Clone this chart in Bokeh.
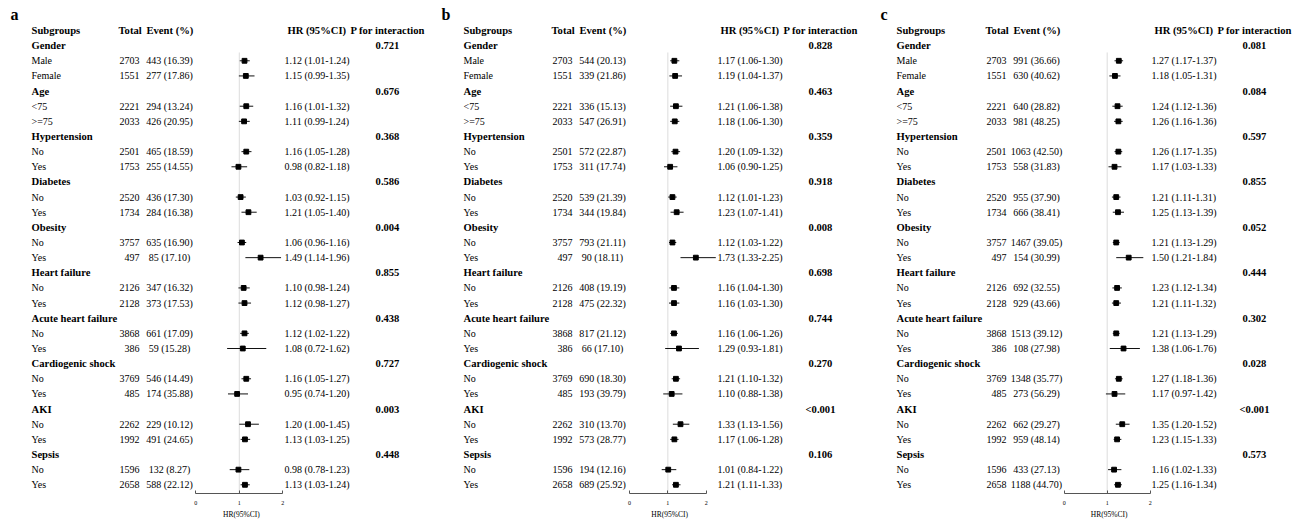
from bokeh.plotting import figure
from bokeh.models import ColumnDataSource, LabelSet, Label, Range1d, FixedTicker, Title
from bokeh.layouts import row
from bokeh.core.properties import value
from bokeh.embed import file_html
from bokeh.resources import INLINE

# ---- data -------------------------------------------------------------
groups = ["Gender", "Age", "Hypertension", "Diabetes", "Obesity", "Heart failure",
          "Acute heart failure", "Cardiogenic shock", "AKI", "Sepsis"]
levels = [["Male", "Female"], ["<75", ">=75"], ["No", "Yes"], ["No", "Yes"], ["No", "Yes"],
          ["No", "Yes"], ["No", "Yes"], ["No", "Yes"], ["No", "Yes"], ["No", "Yes"]]
totals = [2703, 1551, 2221, 2033, 2501, 1753, 2520, 1734, 3757, 497,
          2126, 2128, 3868, 386, 3769, 485, 2262, 1992, 1596, 2658]

events_a = [443, 277, 294, 426, 465, 255, 436, 284, 635, 85,
            347, 373, 661, 59, 546, 174, 229, 491, 132, 588]
pct_a = [16.39, 17.86, 13.24, 20.95, 18.59, 14.55, 17.30, 16.38, 16.90, 17.10,
         16.32, 17.53, 17.09, 15.28, 14.49, 35.88, 10.12, 24.65, 8.27, 22.12]
hr_a = [1.12, 1.15, 1.16, 1.11, 1.16, 0.98, 1.03, 1.21, 1.06, 1.49,
        1.10, 1.12, 1.12, 1.08, 1.16, 0.95, 1.20, 1.13, 0.98, 1.13]
lo_a = [1.01, 0.99, 1.01, 0.99, 1.05, 0.82, 0.92, 1.05, 0.96, 1.14,
        0.98, 0.98, 1.02, 0.72, 1.05, 0.74, 1.00, 1.03, 0.78, 1.03]
hi_a = [1.24, 1.35, 1.32, 1.24, 1.28, 1.18, 1.15, 1.40, 1.16, 1.96,
        1.24, 1.27, 1.22, 1.62, 1.27, 1.20, 1.45, 1.25, 1.23, 1.24]
p_a = ["0.721", "0.676", "0.368", "0.586", "0.004", "0.855", "0.438", "0.727", "0.003", "0.448"]

events_b = [544, 339, 336, 547, 572, 311, 539, 344, 793, 90,
            408, 475, 817, 66, 690, 193, 310, 573, 194, 689]
pct_b = [20.13, 21.86, 15.13, 26.91, 22.87, 17.74, 21.39, 19.84, 21.11, 18.11,
         19.19, 22.32, 21.12, 17.10, 18.30, 39.79, 13.70, 28.77, 12.16, 25.92]
hr_b = [1.17, 1.19, 1.21, 1.18, 1.20, 1.06, 1.12, 1.23, 1.12, 1.73,
        1.16, 1.16, 1.16, 1.29, 1.21, 1.10, 1.33, 1.17, 1.01, 1.21]
lo_b = [1.06, 1.04, 1.06, 1.06, 1.09, 0.90, 1.01, 1.07, 1.03, 1.33,
        1.04, 1.03, 1.06, 0.93, 1.10, 0.88, 1.13, 1.06, 0.84, 1.11]
hi_b = [1.30, 1.37, 1.38, 1.30, 1.32, 1.25, 1.23, 1.41, 1.22, 2.25,
        1.30, 1.30, 1.26, 1.81, 1.32, 1.38, 1.56, 1.28, 1.22, 1.33]
p_b = ["0.828", "0.463", "0.359", "0.918", "0.008", "0.698", "0.744", "0.270", "<0.001", "0.106"]

events_c = [991, 630, 640, 981, 1063, 558, 955, 666, 1467, 154,
            692, 929, 1513, 108, 1348, 273, 662, 959, 433, 1188]
pct_c = [36.66, 40.62, 28.82, 48.25, 42.50, 31.83, 37.90, 38.41, 39.05, 30.99,
         32.55, 43.66, 39.12, 27.98, 35.77, 56.29, 29.27, 48.14, 27.13, 44.70]
hr_c = [1.27, 1.18, 1.24, 1.26, 1.26, 1.17, 1.21, 1.25, 1.21, 1.50,
        1.23, 1.21, 1.21, 1.38, 1.27, 1.17, 1.35, 1.23, 1.16, 1.25]
lo_c = [1.17, 1.05, 1.12, 1.16, 1.17, 1.03, 1.11, 1.13, 1.13, 1.21,
        1.12, 1.11, 1.13, 1.06, 1.18, 0.97, 1.20, 1.15, 1.02, 1.16]
hi_c = [1.37, 1.31, 1.36, 1.36, 1.35, 1.33, 1.31, 1.39, 1.29, 1.84,
        1.34, 1.32, 1.29, 1.76, 1.36, 1.42, 1.52, 1.33, 1.33, 1.34]
p_c = ["0.081", "0.084", "0.597", "0.855", "0.052", "0.444", "0.302", "0.028", "<0.001", "0.573"]

hr_ticks = [0, 1, 2]
header = ["Subgroups", "Total", "Event (%)", "HR (95%CI)", "P for interaction"]
axis_title = "HR(95%CI)"

# ---- layout constants ---------------------------------------------------
FONT = "Liberation Serif"
REG = "10px"
BOLD = "10.6px"
HEIGHT = 519
BOTTOM = 26                 # room for the HR axis under the frame
ROW_PX = 15.143             # pixel height of one table row
TOP_PX = 30.0               # pixel centre of the header row
FRAME_H = HEIGHT - BOTTOM
Y_TOP = -TOP_PX / ROW_PX
Y_BOTTOM = (FRAME_H - TOP_PX) / ROW_PX
TITLE_HALF_W = 18.5         # half width of the axis title at 7.5px

COL_TOTAL = 139     # right edge of "Total"
COL_EVENT = 169     # centre of "Event (%)"
COL_HR = 284        # left edge of HR text
COL_P = 387         # centre of P values
HEAD_X = [None, 118, 146, 287, 350]


def add_labels(p, x, ys, texts, align="left", bold=False):
    src = ColumnDataSource(dict(y=ys, t=texts))
    p.add_layout(LabelSet(x=x, y="y", text="t", source=src, x_units="screen",
                          text_align=align, text_baseline="middle",
                          text_font=value(FONT),
                          text_font_size=BOLD if bold else REG,
                          text_font_style="bold" if bold else "normal",
                          text_color="black"))


def panel(letter, events, pct, hr, lo, hi, pvals, width, zero_px, unit_px, sub_x, letter_x):
    x0 = -zero_px / unit_px
    x1 = (width - zero_px) / unit_px
    p = figure(width=width, height=HEIGHT, x_range=Range1d(x0, x1),
               y_range=Range1d(Y_BOTTOM, Y_TOP),
               toolbar_location=None, output_backend="svg",
               min_border=0, min_border_bottom=BOTTOM,
               y_axis_location=None, outline_line_color=None,
               background_fill_color="white", border_fill_color="white")
    p.xgrid.visible = False
    p.ygrid.visible = False

    # row indices: header 0, group title rows, then two level rows each
    group_rows = [1 + 3 * i for i in range(len(groups))]
    level_rows = [r + k for r in group_rows for k in (1, 2)]
    level_names = [name for pair in levels for name in pair]

    # reference line at HR = 1
    p.segment(x0=[1], x1=[1], y0=[group_rows[0] + 0.45], y1=[Y_BOTTOM],
              line_color="#dcdcdc", line_width=1)

    # confidence intervals and point estimates
    src = ColumnDataSource(dict(y=level_rows, hr=hr, lo=lo, hi=hi))
    p.segment(x0="lo", x1="hi", y0="y", y1="y", source=src,
              line_color="#111111", line_width=1)
    p.scatter(x="hr", y="y", source=src, marker="square", size=4.8,
              fill_color="black", line_color="black")

    # HR axis
    ax = p.xaxis[0]
    ax.bounds = (hr_ticks[0], hr_ticks[-1])
    ax.ticker = FixedTicker(ticks=hr_ticks)
    ax.major_tick_in = 3
    ax.major_tick_out = 0
    ax.minor_tick_line_color = None
    ax.axis_line_color = "#555555"
    ax.major_tick_line_color = "#555555"
    ax.major_label_text_font = FONT
    ax.major_label_text_font_size = "6px"
    ax.major_label_text_color = "black"
    ax.major_label_standoff = 7

    # axis title under the HR scale, centred near HR = 1
    left_edge = zero_px + 1.05 * unit_px - TITLE_HALF_W
    p.add_layout(Title(text=axis_title, align="left", offset=left_edge, standoff=0,
                       text_font=FONT, text_font_size="7.5px", text_font_style="normal",
                       text_color="black"), "below")

    # table text
    p.add_layout(Label(x=letter_x, y=-1.05, x_units="screen", text=letter,
                       text_font=FONT, text_font_style="bold", text_font_size="16px",
                       text_baseline="middle", text_color="black"))
    head_x = [sub_x] + HEAD_X[1:]
    for hx, txt in zip(head_x, header):
        p.add_layout(Label(x=hx, y=0, x_units="screen", text=txt, text_font=FONT,
                           text_font_style="bold", text_font_size=BOLD,
                           text_baseline="middle", text_color="black"))

    add_labels(p, sub_x, group_rows, groups, bold=True)
    add_labels(p, COL_P, group_rows, pvals, align="center", bold=True)
    add_labels(p, sub_x, level_rows, level_names)
    add_labels(p, COL_TOTAL, level_rows, [str(t) for t in totals], align="right")
    add_labels(p, COL_EVENT, level_rows,
               [f"{e} ({q:.2f})" for e, q in zip(events, pct)], align="center")
    add_labels(p, COL_HR, level_rows,
               [f"{h:.2f} ({l:.2f}-{u:.2f})" for h, l, u in zip(hr, lo, hi)])
    return p


pa = panel("a", events_a, pct_a, hr_a, lo_a, hi_a, p_a, 433, 195.3, 43.5, 31, 10)
pb = panel("b", events_b, pct_b, hr_b, lo_b, hi_b, p_b, 434, 196.0, 38.35, 30, 8)
pc = panel("c", events_c, pct_c, hr_c, lo_c, hi_c, p_c, 440, 196.7, 43.0, 29, 13)

layout = row(pa, pb, pc)
open("out.html", "w").write(file_html(layout, INLINE))
